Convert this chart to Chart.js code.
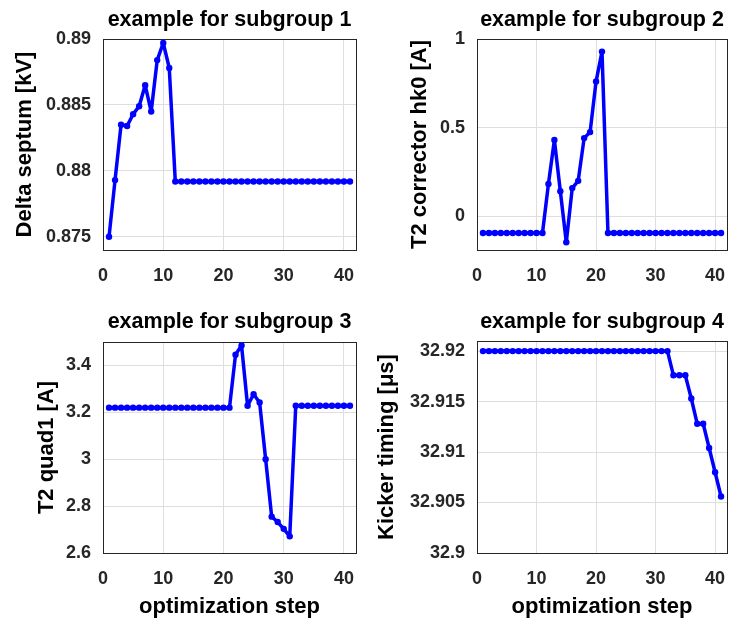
<!DOCTYPE html>
<html>
<head>
<meta charset="utf-8">
<script src="https://cdn.jsdelivr.net/npm/chart.js@4/dist/chart.umd.min.js"></script>
<style>
  body { margin: 0; background: #fff; overflow: hidden; }
  #wrap { position: relative; width: 731px; height: 621px; background: #fff; }
  canvas { position: absolute; }
</style>
</head>
<body>
<div id="wrap">
  <canvas id="p1" width="365" height="305" style="left:0;top:0"></canvas>
  <canvas id="p2" width="366" height="305" style="left:365px;top:0"></canvas>
  <canvas id="p3" width="365" height="316" style="left:0;top:305px"></canvas>
  <canvas id="p4" width="366" height="316" style="left:365px;top:305px"></canvas>
</div>
<script>
// 1. Data
const steps = [1, 2, 3, 4, 5, 6, 7, 8, 9, 10, 11, 12, 13, 14, 15, 16, 17, 18, 19, 20,
               21, 22, 23, 24, 25, 26, 27, 28, 29, 30, 31, 32, 33, 34, 35, 36, 37, 38, 39, 40, 41];

const deltaSeptum = [0.8750, 0.8793, 0.8835, 0.8834, 0.8843, 0.8849, 0.8865, 0.8845, 0.8884, 0.8897,
                     0.8878, 0.8792, 0.8792, 0.8792, 0.8792, 0.8792, 0.8792, 0.8792, 0.8792, 0.8792,
                     0.8792, 0.8792, 0.8792, 0.8792, 0.8792, 0.8792, 0.8792, 0.8792, 0.8792, 0.8792,
                     0.8792, 0.8792, 0.8792, 0.8792, 0.8792, 0.8792, 0.8792, 0.8792, 0.8792, 0.8792, 0.8792];

const correctorHk0 = [-0.094, -0.094, -0.094, -0.094, -0.094, -0.094, -0.094, -0.094, -0.094, -0.094,
                      -0.094, 0.182, 0.430, 0.141, -0.146, 0.159, 0.200, 0.441, 0.475, 0.760,
                      0.929, -0.094, -0.094, -0.094, -0.094, -0.094, -0.094, -0.094, -0.094, -0.094,
                      -0.094, -0.094, -0.094, -0.094, -0.094, -0.094, -0.094, -0.094, -0.094, -0.094, -0.094];

const quad1 = [3.22, 3.22, 3.22, 3.22, 3.22, 3.22, 3.22, 3.22, 3.22, 3.22,
               3.22, 3.22, 3.22, 3.22, 3.22, 3.22, 3.22, 3.22, 3.22, 3.22,
               3.22, 3.446, 3.485, 3.228, 3.277, 3.242, 3.000, 2.755, 2.732, 2.703,
               2.671, 3.228, 3.228, 3.228, 3.228, 3.228, 3.228, 3.228, 3.228, 3.228, 3.228];

const kickerTiming = [32.92, 32.92, 32.92, 32.92, 32.92, 32.92, 32.92, 32.92, 32.92, 32.92,
                      32.92, 32.92, 32.92, 32.92, 32.92, 32.92, 32.92, 32.92, 32.92, 32.92,
                      32.92, 32.92, 32.92, 32.92, 32.92, 32.92, 32.92, 32.92, 32.92, 32.92,
                      32.92, 32.92, 32.9176, 32.9176, 32.9176, 32.9153, 32.9128, 32.9128, 32.9104, 32.9080, 32.9056];

const xTicks = [0, 10, 20, 30, 40];
const xTickLabels = ['0', '10', '20', '30', '40'];

const septumTicks = [0.875, 0.88, 0.885, 0.89];
const septumLabels = ['0.875', '0.88', '0.885', '0.89'];
const correctorTicks = [0, 0.5, 1];
const correctorLabels = ['0', '0.5', '1'];
const quadTicks = [2.6, 2.8, 3, 3.2, 3.4];
const quadLabels = ['2.6', '2.8', '3', '3.2', '3.4'];
const kickerTicks = [32.9, 32.905, 32.91, 32.915, 32.92];
const kickerLabels = ['32.9', '32.905', '32.91', '32.915', '32.92'];

// 2. Shared styling
const FONT = 'Liberation Sans, Arial, Helvetica, sans-serif';
const BLUE = '#0000ff';
const AXIS = '#262626';
const GRID = '#dedede';

// MATLAB style box around the axes
const boxPlugin = {
    id: 'box',
    beforeDatasetsDraw(chart) {
        const { ctx, chartArea: a } = chart;
        ctx.save();
        ctx.strokeStyle = AXIS;
        ctx.lineWidth = 1;
        ctx.strokeRect(Math.round(a.left) + 0.5, Math.round(a.top) + 0.5,
                       Math.round(a.right - a.left), Math.round(a.bottom - a.top));
        ctx.restore();
    }
};

// 3. Panel factory
function makePanel(id, p) {
    const ctx = document.getElementById(id).getContext('2d');
    return new Chart(ctx, {
        type: 'line',
        data: {
            datasets: [{
                data: steps.map((s, i) => ({ x: s, y: p.values[i] })),
                borderColor: BLUE,
                backgroundColor: BLUE,
                borderWidth: 3.5,
                borderJoinStyle: 'round',
                borderCapStyle: 'round',
                pointRadius: 3.2,
                pointBorderWidth: 0,
                tension: 0
            }]
        },
        plugins: [boxPlugin],
        options: {
            responsive: false,
            devicePixelRatio: 1,
            animation: false,
            layout: { padding: { left: 0, right: p.padRight, top: 0, bottom: 0 } },
            plugins: {
                legend: { display: false },
                tooltip: { enabled: false },
                title: {
                    display: true,
                    fullSize: false,
                    text: p.title,
                    color: '#000',
                    font: { family: FONT, size: 21.5, weight: 'bold', lineHeight: 1.2 },
                    padding: { top: p.titleTop, bottom: p.titleBottom }
                }
            },
            scales: {
                x: {
                    type: 'linear',
                    min: 0,
                    max: 42,
                    afterBuildTicks: s => { s.ticks = xTicks.map(v => ({ value: v })); },
                    afterFit: s => { s.height = p.xHeight; s.paddingLeft = 0; s.paddingRight = 0; },
                    ticks: {
                        callback: (v, i) => xTickLabels[i],
                        color: AXIS,
                        padding: 15,
                        maxRotation: 0,
                        font: { family: FONT, size: 18, weight: 'bold' }
                    },
                    grid: { color: GRID, drawTicks: false },
                    border: { display: false },
                    title: {
                        display: !!p.xTitle,
                        text: p.xTitle || '',
                        color: '#000',
                        font: { family: FONT, size: 22, weight: 'bold', lineHeight: 1.2 },
                        padding: { top: 0, bottom: 1 }
                    }
                },
                y: {
                    type: 'linear',
                    min: p.yMin,
                    max: p.yMax,
                    afterBuildTicks: s => { s.ticks = p.yTicks.map(v => ({ value: v })); },
                    afterFit: s => { s.width = p.yWidth; s.paddingTop = 0; s.paddingBottom = 0; },
                    ticks: {
                        callback: (v, i) => p.yLabels[i],
                        color: AXIS,
                        padding: 12,
                        font: { family: FONT, size: 18, weight: 'bold' }
                    },
                    grid: { color: GRID, drawTicks: false },
                    border: { display: false },
                    title: {
                        display: true,
                        text: p.yTitle,
                        color: '#000',
                        font: { family: FONT, size: 22, weight: 'bold', lineHeight: 1.2 },
                        padding: { top: p.yTitlePad, bottom: 0 }
                    }
                }
            }
        }
    });
}

// 4. Build the four subplots
makePanel('p1', {
    values: deltaSeptum, title: 'example for subgroup 1', yTitle: 'Delta septum [kV]',
    yMin: 0.874, yMax: 0.89, yTicks: septumTicks, yLabels: septumLabels,
    yWidth: 103, yTitlePad: 12, padRight: 9, xHeight: 55, titleTop: 7, titleBottom: 6.2
});
makePanel('p2', {
    values: correctorHk0, title: 'example for subgroup 2', yTitle: 'T2 corrector hk0 [A]',
    yMin: -0.19, yMax: 1, yTicks: correctorTicks, yLabels: correctorLabels,
    yWidth: 112, yTitlePad: 42, padRight: 3, xHeight: 55, titleTop: 7, titleBottom: 6.2
});
makePanel('p3', {
    values: quad1, title: 'example for subgroup 3', yTitle: 'T2 quad1 [A]', xTitle: 'optimization step',
    yMin: 2.6, yMax: 3.5, yTicks: quadTicks, yLabels: quadLabels,
    yWidth: 103, yTitlePad: 34, padRight: 9, xHeight: 68, titleTop: 4.6, titleBottom: 6.6
});
makePanel('p4', {
    values: kickerTiming, title: 'example for subgroup 4', yTitle: 'Kicker timing [μs]', xTitle: 'optimization step',
    yMin: 32.9, yMax: 32.921, yTicks: kickerTicks, yLabels: kickerLabels,
    yWidth: 112, yTitlePad: 9, padRight: 3, xHeight: 68, titleTop: 4.6, titleBottom: 5.6
});
</script>
</body>
</html>
